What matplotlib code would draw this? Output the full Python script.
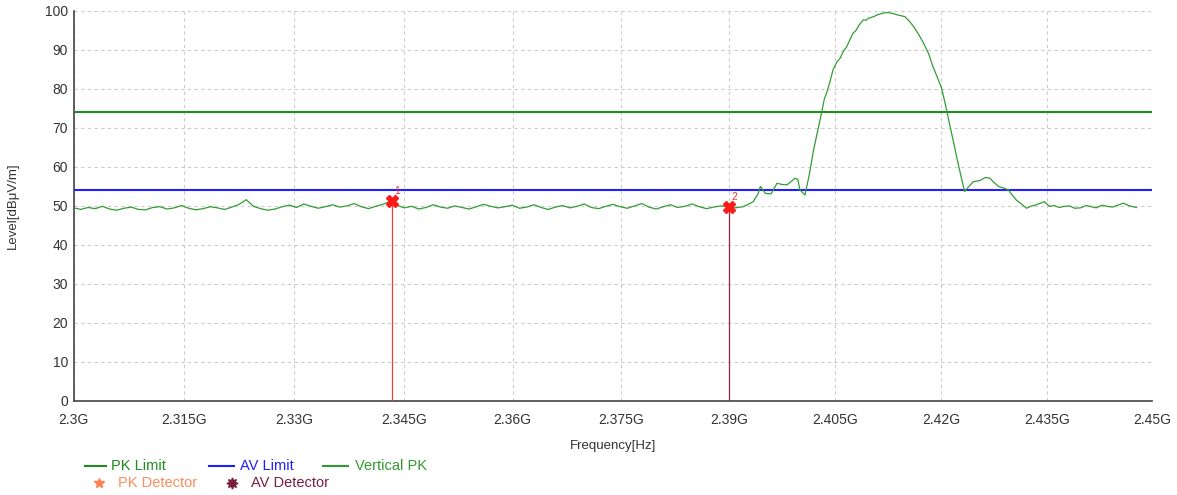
import matplotlib

matplotlib.use("Agg")
import matplotlib.pyplot as plt
from matplotlib.lines import Line2D

plt.rcParams["font.family"] = ["Liberation Sans", "DejaVu Sans"]

# trace (GHz, dBuV/m)
noise_freq = [
    2.300, 2.301, 2.302, 2.303, 2.304, 2.305, 2.306, 2.307, 2.308, 2.309,
    2.310, 2.311, 2.312, 2.313, 2.314, 2.315, 2.316, 2.317, 2.318, 2.319,
    2.320, 2.321, 2.322, 2.323, 2.324, 2.325, 2.326, 2.327, 2.328, 2.329,
    2.330, 2.331, 2.332, 2.333, 2.334, 2.335, 2.336, 2.337, 2.338, 2.339,
    2.340, 2.341, 2.342, 2.343, 2.344, 2.345, 2.346, 2.347, 2.348, 2.349,
    2.350, 2.351, 2.352, 2.353, 2.354, 2.355, 2.356, 2.357, 2.358, 2.359,
    2.360, 2.361, 2.362, 2.363, 2.364, 2.365, 2.366, 2.367, 2.368, 2.369,
    2.370, 2.371, 2.372, 2.373, 2.374, 2.375, 2.376, 2.377, 2.378, 2.379,
    2.380, 2.381, 2.382, 2.383, 2.384, 2.385, 2.386, 2.387, 2.388, 2.389,
    2.390,
]
noise_level = [
    49.5, 49.1, 49.6, 49.3, 49.9, 49.2, 48.9, 49.4, 49.7, 49.1,
    49.0, 49.6, 49.8, 49.2, 49.5, 50.1, 49.4, 49.0, 49.3, 49.8,
    49.5, 49.1, 49.7, 50.4, 51.6, 49.9, 49.3, 48.9, 49.2, 49.8,
    50.2, 49.6, 50.5, 49.9, 49.4, 49.8, 50.3, 49.7, 50.0, 50.6,
    49.8, 49.3, 49.9, 50.4, 51.2, 50.1, 49.5, 49.9, 49.2, 49.6,
    50.3, 49.7, 49.4, 50.0, 49.6, 49.2, 49.8, 50.4, 49.9, 49.5,
    49.8, 50.2, 49.4, 49.7, 50.3, 49.6, 49.1, 49.7, 50.1, 49.5,
    49.9, 50.5, 49.6, 49.3, 49.9, 50.4, 49.8, 49.4, 50.0, 50.6,
    49.7, 49.2, 49.8, 50.3, 49.6, 49.9, 50.5, 49.8, 49.3, 49.7,
    50.0,
]
signal_freq = [
    2.3911, 2.3920, 2.3931, 2.3938, 2.3945, 2.3952, 2.3955, 2.3962, 2.3970,
    2.3978, 2.3985, 2.3992, 2.3998, 2.4003, 2.4007, 2.4010, 2.4017, 2.4023,
    2.4029, 2.4035, 2.4040, 2.4044, 2.4047, 2.4052, 2.4056, 2.4061, 2.4066,
    2.4070, 2.4075, 2.4080, 2.4084, 2.4088, 2.4092, 2.4098, 2.4102, 2.4105,
    2.4112, 2.4118, 2.4125, 2.4131, 2.4138, 2.4145, 2.4150, 2.4156, 2.4162,
    2.4168, 2.4175, 2.4182, 2.4189, 2.4195, 2.4201, 2.4207, 2.4214, 2.4218,
    2.4223, 2.4228, 2.4233, 2.4239, 2.4245, 2.4251, 2.4260, 2.4268, 2.4274,
    2.4280, 2.4286, 2.4293, 2.4300, 2.4305, 2.4311, 2.4318, 2.4325, 2.4331,
    2.4337, 2.4343, 2.4350, 2.4357, 2.4364, 2.4370, 2.4378, 2.4385, 2.4392,
    2.4400, 2.4408, 2.4415, 2.4422, 2.4430, 2.4437, 2.4445, 2.4452, 2.4460,
    2.4467, 2.4473, 2.4478,
]
signal_level = [
    49.7, 49.5, 49.8, 50.4, 51.1, 53.2, 55.0, 53.2, 53.1,
    55.8, 55.5, 55.4, 56.3, 57.1, 56.8, 54.1, 52.8, 58.0,
    64.4, 69.5, 73.8, 77.5, 78.9, 82.0, 84.9, 86.8, 87.9,
    89.5, 90.8, 92.8, 94.3, 95.0, 96.3, 97.7, 97.6, 98.1,
    98.5, 99.0, 99.4, 99.6, 99.4, 99.0, 98.8, 98.5, 97.4,
    96.0, 94.0, 91.7, 89.0, 85.7, 83.0, 80.2, 74.6, 71.0,
    66.9, 62.5, 58.4, 53.7, 55.0, 56.2, 56.5, 57.3, 57.1,
    56.0, 55.0, 54.6, 54.1, 52.8, 51.5, 50.5, 49.4, 49.9,
    50.2, 50.6, 51.1, 49.9, 50.1, 49.6, 49.9, 50.0, 49.4,
    49.5, 50.1, 49.8, 49.5, 50.2, 49.9, 49.7, 50.2, 50.7,
    50.1, 49.8, 49.6,
]

pk_limit = 74
av_limit = 54

marker_freq = [2.34427, 2.39117]
marker_level = [51.3, 49.7]
marker_names = ["1", "2"]

xtick_pos = [2.3, 2.31533, 2.33065, 2.34598, 2.36104, 2.37610,
             2.39117, 2.40592, 2.42066, 2.43540, 2.45]
xtick_labels = ["2.3G", "2.315G", "2.33G", "2.345G", "2.36G", "2.375G",
                "2.39G", "2.405G", "2.42G", "2.435G", "2.45G"]


def main() -> None:
    fig = plt.figure(figsize=(11.77, 4.95), dpi=100)
    ax = fig.add_axes([0.0626, 0.19, 0.9164, 0.788])

    ax.axhline(pk_limit, color="#1f8c1f", lw=1.5, zorder=3)
    ax.axhline(av_limit, color="#1f1fff", lw=1.5, zorder=3)
    ax.plot(noise_freq + signal_freq, noise_level + signal_level,
            color="#349c34", lw=0.9, zorder=4)

    line_colors = ["#e8403a", "#9a2a40"]
    for f, lv, name, lc in zip(marker_freq, marker_level, marker_names, line_colors):
        ax.plot([f, f], [0, lv], color=lc, lw=0.9, zorder=5)
        ax.plot(f, lv, marker="X", color="#ff1a1a", markersize=8, zorder=6)
        ax.text(f + 0.0003, lv + 1.8, name, color="#ff3030", fontsize=7.5, zorder=6)

    ax.set_xlim(2.3, 2.45)
    ax.set_ylim(0, 100)
    ax.set_xticks(xtick_pos)
    ax.set_xticklabels(xtick_labels)
    ax.set_yticks(range(0, 101, 10))
    ax.tick_params(length=0, labelsize=10, colors="#333333")
    ax.tick_params(axis="x", pad=9)
    ax.tick_params(axis="y", pad=4)

    ax.grid(True, color="#cccccc", lw=0.8, linestyle=(0, (3, 3)))
    ax.set_axisbelow(True)
    for side in ("top", "right"):
        ax.spines[side].set_visible(False)
    for side in ("left", "bottom"):
        ax.spines[side].set_color("#444444")
        ax.spines[side].set_linewidth(1.2)

    ax.set_xlabel("Frequency[Hz]", fontsize=9.5, color="#333333", labelpad=9)
    ax.set_ylabel("Level[dBμV/m]", fontsize=9.5, color="#333333", labelpad=19)

    W, H = 1177.0, 495.0
    legend_lines = [
        (85, 106, 111, "PK Limit", "#1f8c1f"),
        (209, 234, 240, "AV Limit", "#1f1fff"),
        (323, 348, 355, "Vertical PK", "#2f9a2f"),
    ]
    y1 = 1 - 466 / H
    for x0, x1, xt, label, c in legend_lines:
        fig.add_artist(Line2D([x0 / W, x1 / W], [y1, y1], color=c, lw=1.5,
                              transform=fig.transFigure))
        fig.text(xt / W, y1, label, color=c, fontsize=10.5, va="center")

    y2 = 1 - 483 / H
    fig.add_artist(Line2D([99 / W], [y2], marker="*", color="#ff7f50",
                          markersize=7, transform=fig.transFigure))
    fig.text(118 / W, y2, "PK Detector", color="#ff8c5a", fontsize=10.5, va="center")
    fig.add_artist(Line2D([232 / W], [y2], marker=(8, 1, 0), color="#7a1f3d",
                          markersize=8, transform=fig.transFigure))
    fig.text(251 / W, y2, "AV Detector", color="#7a1f3d", fontsize=10.5, va="center")

    fig.savefig("out.png", dpi=100)
    plt.close(fig)


if __name__ == "__main__":
    main()
